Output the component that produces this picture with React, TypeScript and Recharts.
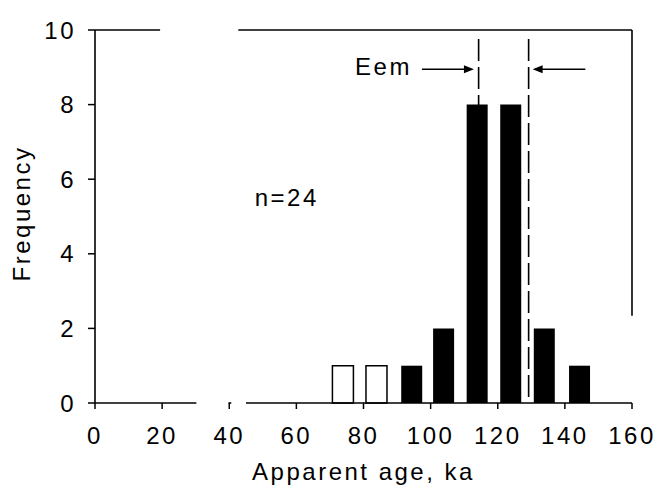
import {
  Bar,
  BarChart,
  ReferenceDot,
  ReferenceLine,
  XAxis,
  YAxis
} from "recharts";

// histogram bins (centre of each bar, ka) and counts
const binCenters = [74, 84, 94.5, 104, 114, 124, 134, 144.5];
const openCounts = [1, 1, 0, 0, 0, 0, 0, 0];
const filledCounts = [0, 0, 1, 2, 8, 8, 2, 1];

const xTicks = [0, 20, 40, 60, 80, 100, 120, 140, 160];
const yTicks = [0, 2, 4, 6, 8, 10];

// Eem interval bounds (ka)
const eemBounds = [114.3, 129.2];

const data = binCenters.map((x, i) => ({
  x,
  open: openCounts[i] || null,
  filled: filledCounts[i] || null
}));

const ink = "#000";
const font = 24;

const ArrowLine = (props: any) => {
  const { x1, y1, x2, y2 } = props;
  const dir = Math.sign(x2 - x1);
  return (
    <g>
      <line x1={x1} y1={y1} x2={x2 - dir * 4} y2={y2} stroke={ink} strokeWidth={1.5} />
      <path
        d={`M${x2},${y2} L${x2 - dir * 10},${y2 - 4} L${x2 - dir * 10},${y2 + 4} Z`}
        fill={ink}
      />
    </g>
  );
};

const FreqLabel = (props: any) => {
  const { viewBox } = props;
  const cx = viewBox.x + 21.5;
  const cy = viewBox.y + viewBox.height / 2 - 3;
  return (
    <text
      x={cx}
      y={cy}
      dy="0.355em"
      transform={`rotate(-90, ${cx}, ${cy})`}
      textAnchor="middle"
      fill={ink}
      fontSize={font}
    >
      Frequency
    </text>
  );
};

export default function App() {
  return (
    <div
      style={{
        position: "absolute",
        left: 0,
        top: 0,
        background: "#fff",
        fontFamily: '"Liberation Sans", Arial, sans-serif',
        letterSpacing: "2.5px"
      }}
    >
      <BarChart
        width={669}
        height={489}
        data={data}
        margin={{ top: 30, right: 37, bottom: 0, left: 0 }}
      >
        <XAxis
          dataKey="x"
          type="number"
          domain={[0, 160]}
          ticks={xTicks}
          interval={0}
          height={86}
          axisLine={false}
          tickSize={6}
          tickMargin={18}
          tickLine={{ stroke: ink, strokeWidth: 1.5 }}
          tick={{ fill: ink, fontSize: font }}
          label={{
            value: "Apparent age, ka",
            position: "insideBottom",
            offset: 9,
            fill: ink,
            fontSize: font
          }}
        />
        <YAxis
          type="number"
          domain={[0, 10]}
          ticks={yTicks}
          interval={0}
          width={95}
          tickSize={7}
          tickMargin={12}
          axisLine={{ stroke: ink, strokeWidth: 1.6 }}
          tickLine={{ stroke: ink, strokeWidth: 1.5 }}
          tick={{ fill: ink, fontSize: font }}
          label={<FreqLabel />}
        />
        <Bar
          dataKey="open"
          stackId="a"
          barSize={21}
          fill="#fff"
          stroke={ink}
          strokeWidth={1.5}
          isAnimationActive={false}
        />
        <Bar
          dataKey="filled"
          stackId="a"
          barSize={21}
          fill={ink}
          isAnimationActive={false}
        />

        {/* broken frame and baseline */}
        <ReferenceLine segment={[{ x: 0, y: 0 }, { x: 30.2, y: 0 }]} stroke={ink} strokeWidth={1.6} />
        <ReferenceLine segment={[{ x: 39.8, y: 0 }, { x: 40.6, y: 0 }]} stroke={ink} strokeWidth={1.6} />
        <ReferenceLine segment={[{ x: 45, y: 0 }, { x: 160, y: 0 }]} stroke={ink} strokeWidth={1.6} />
        <ReferenceLine segment={[{ x: 0, y: 10 }, { x: 19.4, y: 10 }]} stroke={ink} strokeWidth={1.6} />
        <ReferenceLine segment={[{ x: 42.7, y: 10 }, { x: 160, y: 10 }]} stroke={ink} strokeWidth={1.6} />
        <ReferenceLine segment={[{ x: 160, y: 10 }, { x: 160, y: 2.34 }]} stroke={ink} strokeWidth={1.6} />

        {/* Eem interval */}
        {eemBounds.map((b) => (
          <ReferenceLine
            key={b}
            segment={[{ x: b, y: 9.76 }, { x: b, y: 0.05 }]}
            stroke={ink}
            strokeWidth={1.6}
            strokeDasharray="22 6"
          />
        ))}
        <ReferenceLine
          segment={[{ x: 97.4, y: 8.95 }, { x: 112.9, y: 8.95 }]}
          shape={ArrowLine}
        />
        <ReferenceLine
          segment={[{ x: 146.1, y: 8.95 }, { x: 130.4, y: 8.95 }]}
          shape={ArrowLine}
        />
        <ReferenceDot
          x={77.5}
          y={9.02}
          r={0}
          fill="none"
          stroke="none"
          label={{ value: "Eem", position: "right", offset: 0, fill: ink, fontSize: font }}
        />
        <ReferenceDot
          x={47.6}
          y={5.52}
          r={0}
          fill="none"
          stroke="none"
          label={{ value: "n=24", position: "right", offset: 0, fill: ink, fontSize: font }}
        />
      </BarChart>
    </div>
  );
}
